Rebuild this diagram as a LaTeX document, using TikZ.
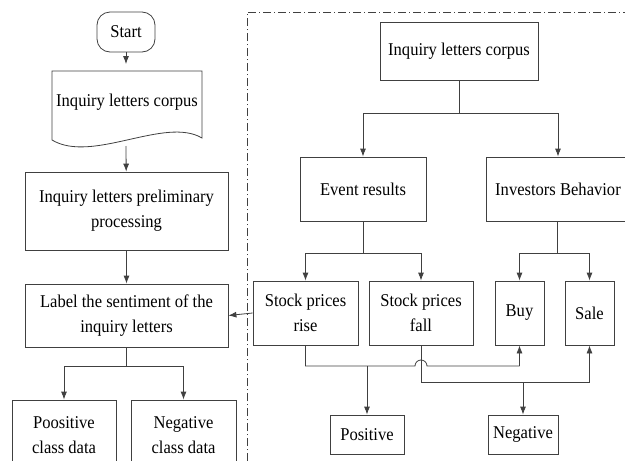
\documentclass[tikz,border=0pt]{standalone}
\usepackage{fontspec}
\setmainfont{Liberation Serif}[FakeStretch=0.92]
\usetikzlibrary{arrows.meta,calc}
\begin{document}
\begin{tikzpicture}[x=1pt,y=-1pt,
  line width=0.8pt,
  every node/.style={font=\fontsize{18}{25}\selectfont, text=black},
  box/.style={draw=black!75, rectangle, inner sep=0pt, align=center},
  ln/.style={draw=black!75, line width=0.8pt},
  arr/.style={ln, -{Latex[length=8pt,width=6pt]}},
  dashdot/.style={draw=black!75, line width=0.8pt, dash pattern=on 8pt off 3pt on 1pt off 3pt}]
\useasboundingbox (0,0) rectangle (625,461);

% ---------- left flow ----------
\node[box, rounded corners=13pt, minimum width=58pt, minimum height=40pt] (start) at (126,32) {Start};
\draw[black!75] (52,140) -- (52,71) -- (202,71) -- (202,138)
  .. controls (165,116) and (92,164) .. cycle;
\node[inner sep=0pt, minimum width=150pt, minimum height=75pt] (corpusL) at (127,102) {Inquiry letters corpus};
\coordinate (docbot) at (126,146);
\node[box, minimum width=203pt, minimum height=78pt] (prelim) at (126.5,211) {Inquiry letters preliminary\\processing};
\node[box, minimum width=203pt, minimum height=63pt] (label) at (126.5,315.5) {Label the sentiment of the\\inquiry letters};
\node[box, minimum width=104pt, minimum height=70pt] (posc) at (64,435) {Poositive\\class data};
\node[box, minimum width=105pt, minimum height=70pt] (negc) at (183.5,435) {Negative\\class data};

\draw[arr] (start) -- (start |- corpusL.north);
\draw[arr] (docbot) -- (prelim);
\draw[arr] (prelim) -- (label);
\coordinate (lsplit) at ($(label.south)+(0,19)$);
\draw[ln] (label.south) -- (lsplit);
\draw[arr] (lsplit) -| (posc.north);
\draw[arr] (lsplit) -| (negc.north);

% ---------- frame ----------
\coordinate (fb) at (247,461);
\coordinate (ft) at (247,12);
\coordinate (fr) at (628,12);
\draw[dashdot] (fb) -- (ft) -- (fr);

% ---------- right tree ----------
\node[box, minimum width=158pt, minimum height=58pt] (corpusR) at (459,51) {Inquiry letters corpus};
\node[box, minimum width=126pt, minimum height=64pt] (event) at (363,189) {Event results};
\node[box, minimum width=144pt, minimum height=64pt] (invest) at (558,189) {Investors Behavior};
\node[box, minimum width=105pt, minimum height=64pt] (rise) at (305.5,313) {Stock prices\\rise};
\node[box, minimum width=104pt, minimum height=64pt] (fall) at (421,313) {Stock prices\\fall};
\node[box, minimum width=49pt, minimum height=64pt] (buy) at (519.5,313) {Buy};
\node[box, minimum width=49pt, minimum height=64pt] (sale) at (589.5,313) {Sale};
\node[box, minimum width=74pt, minimum height=39pt] (pos) at (367,434.5) {Positive};
\node[box, minimum width=70pt, minimum height=39pt] (neg) at (523,434.5) {Negative};

% corpus -> event / invest
\coordinate (csplit) at (459,113);
\draw[ln] (corpusR.south) -- (csplit);
\draw[arr] (csplit) -| (event.north);
\draw[arr] (csplit) -| (invest.north);

% event -> rise / fall
\coordinate (esplit) at (363,253);
\draw[ln] (event.south) -- (esplit);
\draw[arr] (esplit) -| (rise.north);
\draw[arr] (esplit) -| (fall.north);

% invest -> buy / sale
\coordinate (isplit) at (557,253);
\draw[ln] (isplit) -- (isplit |- invest.south);
\draw[arr] (isplit) -| (buy.north);
\draw[arr] (isplit) -| (sale.north);

% rise -> label
\draw[arr] (rise.west) -- (label.east);

% lower connections
\coordinate (rlow) at (305.5,366);
\coordinate (hopL) at (415,366);
\coordinate (flow) at (421,382);
\draw[ln] (rise.south) -- (rlow) -- (hopL) arc[start angle=180, end angle=0, radius=6pt] -- (buy.south |- rlow);
\draw[arr] (buy.south |- rlow) -- (buy.south);
\draw[arr] (pos.north |- rlow) -- (pos.north);
\draw[ln] (fall.south) -- (flow) -- (sale.south |- flow);
\draw[arr] (sale.south |- flow) -- (sale.south);
\draw[arr] (neg.north |- flow) -- (neg.north);
\end{tikzpicture}
\end{document}
